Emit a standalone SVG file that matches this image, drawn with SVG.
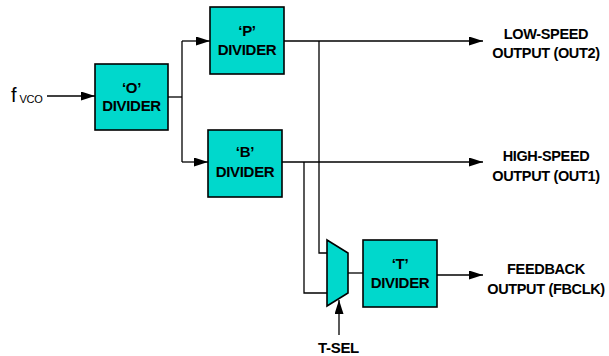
<svg xmlns="http://www.w3.org/2000/svg" width="609" height="356" viewBox="0 0 609 356">
<style>
.box{fill:#00d8cc;stroke:#000;stroke-width:1.6}
.ln{fill:none;stroke:#000;stroke-width:1.3}
.bt{font-family:"Liberation Sans",Arial,sans-serif;font-weight:bold;font-size:15px;letter-spacing:-0.3px;text-anchor:middle;fill:#000}
.lt{font-family:"Liberation Sans",Arial,sans-serif;font-weight:bold;font-size:14.5px;letter-spacing:-0.35px;text-anchor:middle;fill:#000}
.ft{font-family:"Liberation Sans",Arial,sans-serif;fill:#000}
</style>
<defs>
<marker id="ah" markerUnits="userSpaceOnUse" markerWidth="15" markerHeight="10" refX="14" refY="4.5" orient="auto">
<path d="M0,0 L14,4.5 L0,9 Z" fill="#000"/>
</marker>
</defs>
<g id="connectors">
<path class="ln" d="M47,96 H95" marker-end="url(#ah)"/>
<path class="ln" d="M168,97 H182"/>
<path class="ln" d="M182,41 V162"/>
<path class="ln" d="M182,41 H210" marker-end="url(#ah)"/>
<path class="ln" d="M182,162 H208" marker-end="url(#ah)"/>
<path class="ln" d="M284,41 H483" marker-end="url(#ah)"/>
<path class="ln" d="M282,162 H483" marker-end="url(#ah)"/>
<path class="ln" d="M319,41 V253 H327"/>
<path class="ln" d="M304,162 V293 H327"/>
<path class="ln" d="M348,273 H363"/>
<path class="ln" d="M437,275 H483" marker-end="url(#ah)"/>
<path class="ln" d="M339,335 V300" marker-end="url(#ah)"/>
</g>
<g id="fvco">
<text class="ft" x="11" y="102" font-size="20">f</text>
<text class="ft" x="19.5" y="103" font-size="11" letter-spacing="-0.3">VCO</text>
</g>
<g id="o-divider">
<rect class="box" x="95" y="64" width="73" height="66"/>
<text class="bt" x="131.5" y="92.5">‘O’</text>
<text class="bt" x="131.5" y="111">DIVIDER</text>
</g>
<g id="p-divider">
<rect class="box" x="210" y="7" width="74" height="67"/>
<text class="bt" x="247" y="36">‘P’</text>
<text class="bt" x="247" y="55">DIVIDER</text>
</g>
<g id="b-divider">
<rect class="box" x="208" y="130" width="74" height="67"/>
<text class="bt" x="245" y="157">‘B’</text>
<text class="bt" x="245" y="176.5">DIVIDER</text>
</g>
<g id="mux">
<polygon class="box" points="327,240 348,253 348,293 327,306"/>
</g>
<g id="t-divider">
<rect class="box" x="363" y="240" width="74" height="67"/>
<text class="bt" x="400" y="269">‘T’</text>
<text class="bt" x="400" y="287.5">DIVIDER</text>
</g>
<g id="t-sel">
<text class="bt" x="338.5" y="353">T-SEL</text>
</g>
<g id="out2">
<text class="lt" x="546" y="38.5">LOW-SPEED</text>
<text class="lt" x="546" y="57.5">OUTPUT (OUT2)</text>
</g>
<g id="out1">
<text class="lt" x="546" y="161">HIGH-SPEED</text>
<text class="lt" x="546" y="180.5">OUTPUT (OUT1)</text>
</g>
<g id="fbclk">
<text class="lt" x="546" y="274">FEEDBACK</text>
<text class="lt" x="546" y="293.5">OUTPUT (FBCLK)</text>
</g>
</svg>
